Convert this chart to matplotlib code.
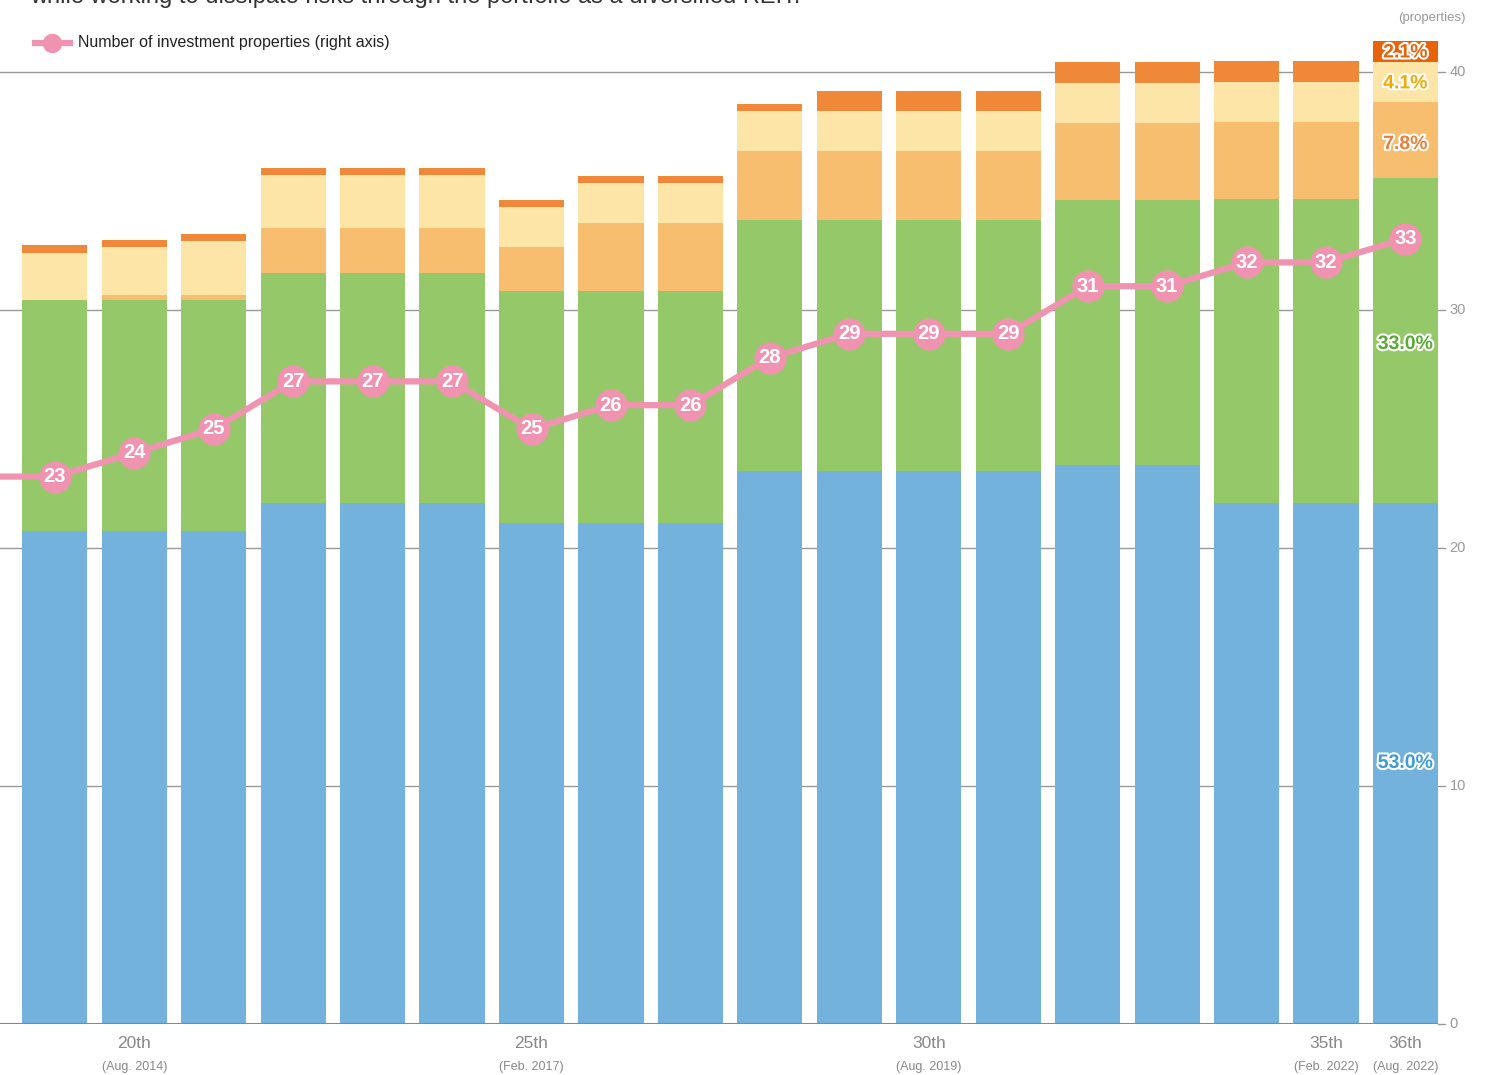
import numpy as np
import matplotlib
matplotlib.use("Agg")
import matplotlib.pyplot as plt
import matplotlib.patheffects as pe

# Periods (19th .. 36th) and their stacked segments (hidden left scale)
periods = ["19th", "20th", "21st", "22nd", "23rd", "24th", "25th", "26th", "27th",
           "28th", "29th", "30th", "31st", "32nd", "33rd", "34th", "35th", "36th"]
blue = [20.71, 20.71, 20.71, 21.89, 21.89, 21.89, 21.05, 21.05, 21.05,
        23.24, 23.24, 23.24, 23.24, 23.49, 23.49, 21.89, 21.89, 21.89]
green = [9.71, 9.71, 9.71, 9.66, 9.66, 9.66, 9.75, 9.75, 9.75,
         10.55, 10.55, 10.55, 10.55, 11.13, 11.13, 12.77, 12.77, 13.66]
orange_mid = [0.0, 0.21, 0.21, 1.89, 1.89, 1.89, 1.85, 2.86, 2.86,
              2.90, 2.90, 2.90, 2.90, 3.24, 3.24, 3.24, 3.24, 3.19]
yellow = [1.97, 2.02, 2.27, 2.23, 2.23, 2.23, 1.68, 1.68, 1.68,
          1.68, 1.68, 1.68, 1.68, 1.68, 1.68, 1.68, 1.68, 1.68]
orange_dark = [0.34, 0.29, 0.29, 0.29, 0.29, 0.29, 0.29, 0.29, 0.29,
               0.29, 0.84, 0.84, 0.84, 0.88, 0.88, 0.88, 0.88, 0.88]

# number of investment properties (first value = 18th period, off the left edge)
properties = [23, 23, 24, 25, 27, 27, 27, 25, 26, 26, 28, 29, 29, 29, 31, 31, 32, 32, 33]

# share labels for the latest period
shares = ["53.0%", "33.0%", "7.8%", "4.1%", "2.1%"]

tick_idx = [1, 6, 11, 16, 17]
tick_top = ["20th", "25th", "30th", "35th", "36th"]
tick_bottom = ["(Aug. 2014)", "(Feb. 2017)", "(Aug. 2019)", "(Feb. 2022)", "(Aug. 2022)"]

c_blue = "#72b2dc"
c_green = "#94c869"
c_mid = "#f7be6f"
c_yellow = "#fde5a7"
c_dark = "#f0883a"
c_last = "#e8620a"
c_pink = "#f093b0"

plt.rcParams["font.family"] = ["Liberation Sans", "DejaVu Sans"]

fig = plt.figure(figsize=(14.94, 10.75), dpi=100)
ax = fig.add_axes([0.0, 1 - 1024 / 1075, 1438 / 1494, 1024 / 1075])

x = np.arange(len(periods))
w = 0.82
b1 = np.array(blue)
b2 = b1 + np.array(green)
b3 = b2 + np.array(orange_mid)
b4 = b3 + np.array(yellow)
top_colors = [c_dark] * (len(periods) - 1) + [c_last]

ax.bar(x, blue, w, color=c_blue, zorder=2)
ax.bar(x, green, w, bottom=b1, color=c_green, zorder=2)
ax.bar(x, orange_mid, w, bottom=b2, color=c_mid, zorder=2)
ax.bar(x, yellow, w, bottom=b3, color=c_yellow, zorder=2)
ax.bar(x, orange_dark, w, bottom=b4, color=top_colors, zorder=2)

# gridlines
for v in [10, 20, 30, 40]:
    ax.axhline(v, color="#999999", lw=1, zorder=1)
ax.axhline(0, color="#888888", lw=2.2, zorder=3)

# line for properties (right axis, same scale)
xl = np.arange(-1, len(periods))
ax.plot(xl, properties, color=c_pink, lw=4.5, zorder=4, solid_capstyle="butt")
ax.scatter(xl, properties, s=540, color=c_pink, linewidths=0, zorder=5)
for xi, v in zip(xl, properties):
    if xi >= 0:
        ax.text(xi, v, str(v), ha="center", va="center", color="white",
                fontsize=14.5, fontweight="bold", zorder=6)

# percentage labels on the last bar
last = len(periods) - 1
label_colors = ["#3d9bd8", "#5aaa35", "#e8803c", "#f2a900", "#e8620a"]
label_y = [10.95, 28.55, 36.95, 39.5, 40.8]
for s, yv, col in zip(shares, label_y, label_colors):
    ax.text(last, yv, s, ha="center", va="center", color=col, fontsize=14,
            fontweight="bold", zorder=6,
            path_effects=[pe.withStroke(linewidth=3, foreground="white")])

ax.set_xlim(-0.69, last + 0.41)
ax.set_ylim(0, 1024 / 23.8)
for s in ax.spines.values():
    s.set_visible(False)
ax.set_xticks([])
ax.set_yticks([])

# right axis labels
for v in [0, 10, 20, 30, 40]:
    yy = v / (1024 / 23.8)
    ax.plot([1.0, 1.005], [yy, yy], transform=ax.transAxes, color="#999999", lw=1, clip_on=False)
    ax.text(1.008, yy, str(v), transform=ax.transAxes, ha="left", va="center",
            color="#999999", fontsize=10.5)
fig.text(1466 / 1494, 1 - 18 / 1075, "(properties)", ha="right", va="center",
         color="#999999", fontsize=9.5)

# category labels
for i, t1, t2 in zip(tick_idx, tick_top, tick_bottom):
    ax.text(i, -0.8, t1, ha="center", va="center", color="#888888", fontsize=12.5)
    ax.text(i, -1.8, t2, ha="center", va="center", color="#888888", fontsize=9)

# legend
fig.add_artist(plt.Line2D([35 / 1494, 70 / 1494], [1 - 43 / 1075] * 2, color=c_pink, lw=4.5,
                          transform=fig.transFigure))
fig.add_artist(plt.Line2D([52 / 1494], [1 - 43 / 1075], marker="o", markersize=14,
                          markeredgewidth=0, color=c_pink, transform=fig.transFigure))
fig.text(78 / 1494, 1 - 43 / 1075, "Number of investment properties (right axis)",
         ha="left", va="center", color="#222222", fontsize=11.5)

# text from above the chart, cut off at the top edge as in the source
fig.text(30 / 1494, 1 - 3 / 1075,
         "while working to dissipate risks through the portfolio as a diversified REIT.",
         ha="left", va="baseline", color="#333333", fontsize=17)

fig.savefig("out.png", dpi=100)
